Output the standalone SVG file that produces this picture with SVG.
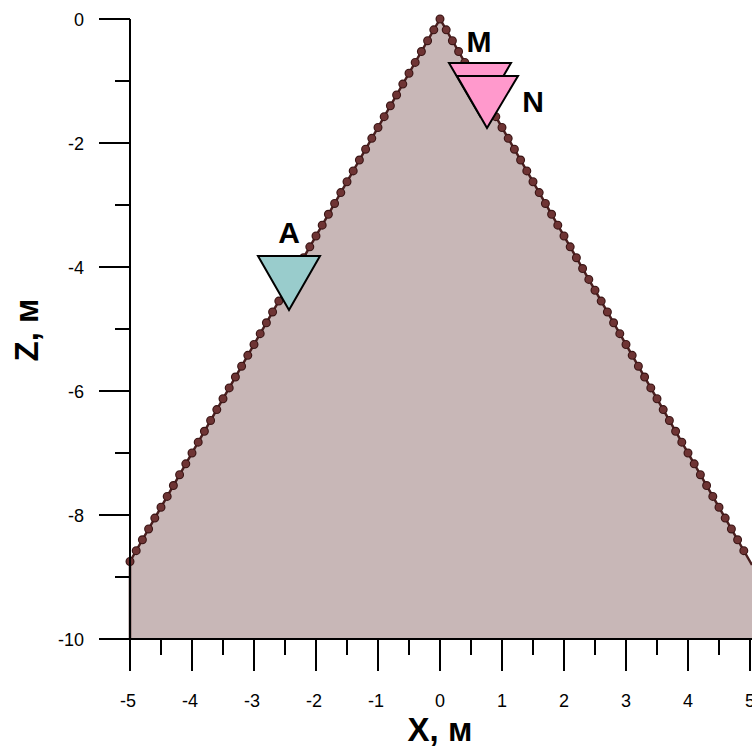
<svg xmlns="http://www.w3.org/2000/svg" width="752" height="749" viewBox="0 0 752 749">
<style>
.ax{stroke:#000;stroke-width:2;fill:none}
.tl{font-family:"Liberation Sans",Arial,sans-serif;font-size:18px;fill:#000}
.tt{font-family:"Liberation Sans",Arial,sans-serif;font-size:33px;font-weight:bold;fill:#000}
.lb{font-family:"Liberation Sans",Arial,sans-serif;font-size:30px;font-weight:bold;fill:#000}
.tri{stroke:#000;stroke-width:2;stroke-linejoin:miter}
</style>
<rect width="752" height="749" fill="#fff"/>
<g id="mountain">
<polygon points="130,639 130,561.5 440,19 750,561.5 752,565 752,639" fill="#c8b7b7" stroke="none"/>
<polyline points="130,639 130,561.5 440,19 750,561.5 752,565" fill="none" stroke="#4a1f1f" stroke-width="2.5"/>
<path d="M130,561.5 L440,19 L750,561.5" pathLength="100" fill="none" stroke="#3a1515" stroke-width="9" stroke-linecap="round" stroke-dasharray="0 1"/>
<path d="M130,561.5 L440,19 L750,561.5" pathLength="100" fill="none" stroke="#6e3434" stroke-width="6.8" stroke-linecap="round" stroke-dasharray="0 1"/>
</g>
<g id="axes">
<line class="ax" x1="130" y1="19" x2="130" y2="671"/>
<line class="ax" x1="99" y1="639" x2="752" y2="639"/>
<path class="ax" d="M99,19H130M99,143H130M99,267H130M99,391H130M99,515H130M115,81H130M115,205H130M115,329H130M115,453H130M115,577H130"/>
<path class="ax" d="M192,639V671M254,639V671M316,639V671M378,639V671M440,639V671M502,639V671M564,639V671M626,639V671M688,639V671M750,639V671M161,639V655M223,639V655M285,639V655M347,639V655M409,639V655M471,639V655M533,639V655M595,639V655M657,639V655M719,639V655"/>
<g class="tl" text-anchor="end">
<text x="84" y="26">0</text>
<text x="84" y="150">-2</text>
<text x="84" y="274">-4</text>
<text x="84" y="398">-6</text>
<text x="84" y="522">-8</text>
<text x="84" y="646">-10</text>
</g>
<g class="tl" text-anchor="middle">
<text x="128" y="707">-5</text>
<text x="190" y="707">-4</text>
<text x="252" y="707">-3</text>
<text x="314" y="707">-2</text>
<text x="376" y="707">-1</text>
<text x="440" y="707">0</text>
<text x="502" y="707">1</text>
<text x="564" y="707">2</text>
<text x="626" y="707">3</text>
<text x="688" y="707">4</text>
<text x="750" y="707">5</text>
</g>
<text class="tt" x="440" y="741" text-anchor="middle">X, м</text>
<text class="tt" transform="translate(38,330) rotate(-90)" text-anchor="middle">Z, м</text>
</g>
<g id="A">
<polygon class="tri" points="258,256 320,256 289,310" fill="#99cccc"/>
<text class="lb" x="289" y="243" text-anchor="middle">A</text>
</g>
<g id="M">
<polygon class="tri" points="449,63 511,63 480,116" fill="#ff99cc"/>
<text class="lb" x="479" y="52" text-anchor="middle">M</text>
</g>
<g id="N">
<polygon class="tri" points="457,76 518,76 487,128" fill="#ff99cc"/>
<text class="lb" x="533" y="112" text-anchor="middle">N</text>
</g>
</svg>
